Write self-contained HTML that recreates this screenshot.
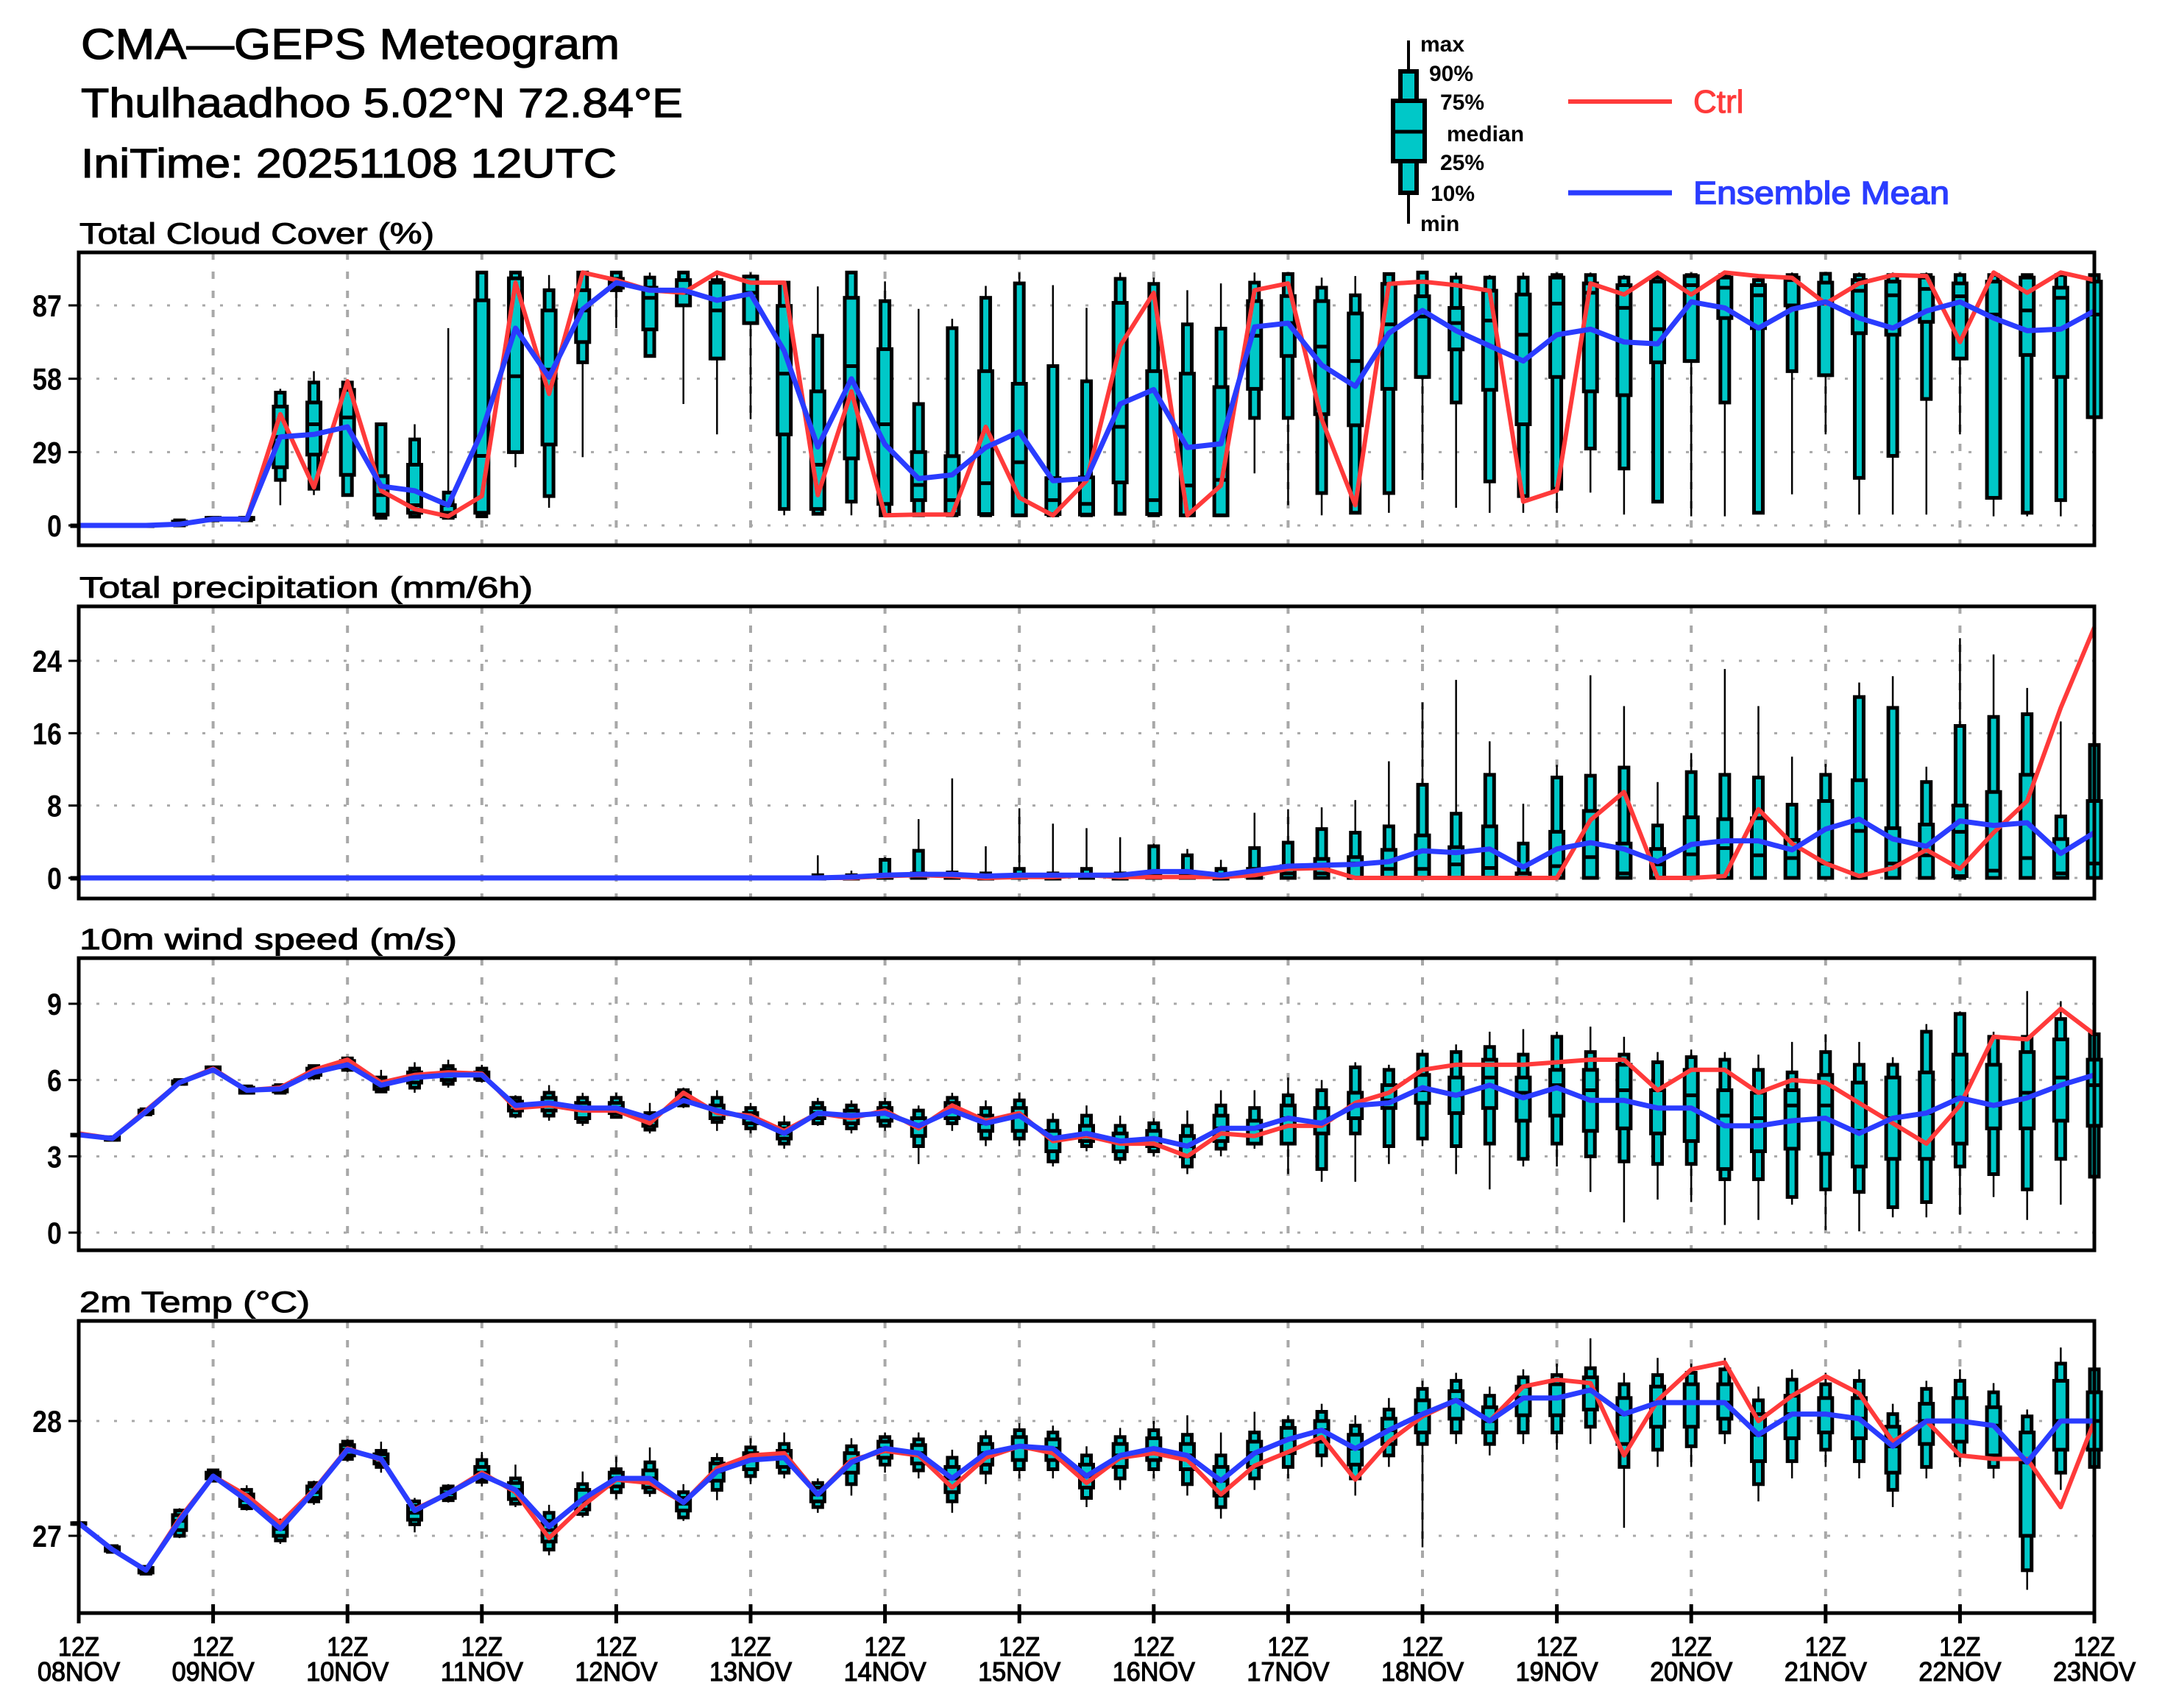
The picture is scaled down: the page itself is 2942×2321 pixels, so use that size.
<!DOCTYPE html>
<html><head><meta charset="utf-8"><style>
html,body{margin:0;padding:0;background:#fff;}
svg{display:block;}
text{font-family:"Liberation Sans","DejaVu Sans",sans-serif;}
</style></head><body>
<svg id="chart" xmlns="http://www.w3.org/2000/svg" width="2942" height="2321" viewBox="0 0 2942 2321">
<rect x="0" y="0" width="2942" height="2321" fill="#fff"/>
<g stroke="#000" stroke-width="1.2">
<text x="110" y="80" font-size="58" textLength="732" lengthAdjust="spacingAndGlyphs">CMA—GEPS Meteogram</text>
<text x="110" y="159" font-size="56" textLength="818" lengthAdjust="spacingAndGlyphs">Thulhaadhoo 5.02°N 72.84°E</text>
<text x="110" y="241" font-size="56" textLength="728" lengthAdjust="spacingAndGlyphs">IniTime: 20251108 12UTC</text>
</g>
<g>
<line x1="1914" y1="55" x2="1914" y2="304" stroke="#000" stroke-width="4"/>
<rect x="1903" y="97" width="22" height="165" fill="#00c8c8" stroke="#000" stroke-width="6"/>
<rect x="1893" y="137" width="43" height="82" fill="#00c8c8" stroke="#000" stroke-width="6"/>
<line x1="1893" y1="179" x2="1936" y2="179" stroke="#000" stroke-width="5"/>
<g font-size="30" font-weight="bold">
<text x="1930" y="70">max</text>
<text x="1942" y="110">90%</text>
<text x="1957" y="149">75%</text>
<text x="1966" y="192">median</text>
<text x="1957" y="231">25%</text>
<text x="1944" y="273">10%</text>
<text x="1930" y="314">min</text>
</g>
<line x1="2131" y1="138" x2="2272" y2="138" stroke="#ff3a3a" stroke-width="6"/>
<text x="2301" y="153" font-size="44" fill="#ff3a3a" stroke="#ff3a3a" stroke-width="1">Ctrl</text>
<line x1="2131" y1="262" x2="2272" y2="262" stroke="#2a3cff" stroke-width="7"/>
<text x="2301" y="277" font-size="44" fill="#2a3cff" stroke="#2a3cff" stroke-width="1.5" textLength="348" lengthAdjust="spacingAndGlyphs">Ensemble Mean</text>
</g>
<g id="panels"></g>
</svg>
<script>
// ---- data (61 time steps, 6-hourly from 12Z 08NOV) ----
const dayLabels = ["08NOV","09NOV","10NOV","11NOV","12NOV","13NOV","14NOV","15NOV","16NOV","17NOV","18NOV","19NOV","20NOV","21NOV","22NOV","23NOV"];

const cloudTicks = [0,29,58,87];
const cloudCtrl = [0,0,0,0.5,2.5,2.5,44,15,57,13.7,6.5,3.6,11.6,96,52,100,97,93,92,100,96,96,12,53,4,4.3,4.3,39,11,4,17.7,71,92,4,15.8,93,95.7,42,8,95.5,96.4,95,92.8,9.4,13.8,95.7,91.3,100,91.3,100,98.6,97.9,87.7,95.7,99,98.6,72.5,100,92,100,97];
const cloudMean = [0,0,0,0.5,2.5,2.5,35,36,39,15.5,13.7,8,37,78,58.6,85.5,96,93,93,89,91.6,69,31,58,32,18.5,20,30.8,37,17.7,18.5,48,53.7,30.8,32.3,78.5,80,63.4,55,76,85,77,71,65,75.4,77.6,72.5,71.8,88.4,86,78,85.5,88.4,82,78,84.8,88.4,82,77,77.6,84.8];
const cloudMin = [0,0,0,0,2,2,8,12,12,3,3,3,3,23,7,27,78,67,48,36,42,4,4.6,4,4,4,4,4,4,4,4,4.6,4,4,4,20.6,8,4,5,5,18,7,5,5,5,13,4.3,9.4,3.6,3.6,5,12.3,36,4.3,4.3,4.3,36,3.6,3.6,3.6,42.8];
const cloudP10 = [0,0,0,0,2,2,18,14.5,12,3,3.5,3,3.6,29,11.6,64.5,93,67,87,66,80,6.5,4.6,9.4,4,4,4,4,4,4,4,4.6,4,4,4,42.5,42.5,12.8,5,12.8,58.7,48.6,17.4,11.6,14.5,30.4,22.5,9.4,65,48.6,5,61,59.4,18.8,27.5,50,66,10.9,5,10,42.8];
const cloudP25 = [0,0,0,0.5,2.5,2.5,23,28,20,4.3,5,3.6,5,29,32,72.5,94,77.5,87,66,80,36,6.5,26.5,8.5,10,4.5,4.5,4,4.5,4.3,17,4.5,4,4,54,67,44,39.6,54,58.7,69.6,53.6,40,58.7,53,51.5,64.5,65,82,78,87,59.4,76,75.4,80.5,66,10.9,67.4,58.7,42.8];
const cloudMed = [0,0,0,1,2.5,2.5,35,40,42.7,12,8,5,27.5,59,61.6,85,96,90,92,85,92,60,24,63,40,16,10,16.7,25,10,8.5,39,10,15.8,18,75,80,70.7,65,79.5,82.6,80,81,75.4,87.7,92,86,77.6,95,94,91,97,87.7,92.8,91,93.5,90.6,83.4,85,90,83.4];
const cloudP75 = [0,0,0,1.5,3,3,47,48.6,53.6,19.5,24,8,89,97.7,85,93,97.5,94,97,96,98.4,86.8,53,90,69.7,29,27.4,61,56,18.7,19,88,61,60,54.7,88.7,90.7,88.7,83.8,95.5,90.6,86,92.8,91.3,98,95.7,95,96.4,98.6,98,95,98,96,97,96.4,98,95.7,96.4,98,94,96.4];
const cloudP90 = [0,0,0,2,3,3,52.5,56.5,56.5,40,34,13,100,100,93,100,100,98,100,97,98.4,96,75,100,88.7,48,78,90,95.7,63,57,97.5,95.5,79.5,77.8,96,99.4,94,91,99.4,100,98,98,98,99,99,98,98,99,99,97,99,99.5,99,99,99,99,99,99,99,99];
const cloudMax = [0,0,0,2,3,3,54,61,57.8,40,40,78,100,100,99,100,100,100,100,100,100,96.5,94.5,100,96.5,85.6,81.7,94.7,100,95,86,100,98,93,95.7,100,100,98,98.6,100,100,100,99,100,100,100,99,100,100,100,99,100,100,100,100,100,100,100,99,100,100];

const precTicks = [0,8,16,24];
const precCtrl = [0,0,0,0,0,0,0,0,0,0,0,0,0,0,0,0,0,0,0,0,0,0,0,0,0.2,0.3,0.2,0,0.1,0.1,0.3,0.1,0.1,0.1,0.1,0.3,1,1.1,0,0,0,0,0,0,0,6.4,9.5,0,0,0.2,7.6,3.8,1.6,0.2,1.1,3.1,1,5,8.5,18.8,27.7];
const precMean = [0,0,0,0,0,0,0,0,0,0,0,0,0,0,0,0,0,0,0,0,0,0,0,0.1,0.3,0.4,0.4,0.2,0.3,0.3,0.3,0.3,0.7,0.7,0.3,0.8,1.3,1.4,1.5,1.8,3,2.8,3.2,1.2,3.2,3.9,3.2,1.8,3.7,4.1,4.1,3.1,5.4,6.5,4.3,3.5,6.3,5.8,6.1,2.7,5];
const precMin = [0,0,0,0,0,0,0,0,0,0,0,0,0,0,0,0,0,0,0,0,0,0,0,0,0,0,0,0,0,0,0,0,0,0,0,0,0,0,0,0,0,0,0,0,0,0,0,0,0,0,0,0,0,0,0,0,0,0,0,0,0];
const precP10 = [0,0,0,0,0,0,0,0,0,0,0,0,0,0,0,0,0,0,0,0,0,0,0,0,0,0,0,0,0,0,0,0,0,0,0,0,0,0,0,0,0,0,0,0,0,0,0,0,0,0,0,0,0,0,0,0,0,0,0,0,0];
const precP25 = [0,0,0,0,0,0,0,0,0,0,0,0,0,0,0,0,0,0,0,0,0,0,0,0,0,0,0,0,0,0,0,0,0,0,0,0,0,0,0,0,0,0,0,0,0,0,0,0,0,0,0,0,0,0,0,0,0.2,0,0,0,0];
const precMed = [0,0,0,0,0,0,0,0,0,0,0,0,0,0,0,0,0,0,0,0,0,0,0,0,0,0,0,0,0,0,0,0,0,0,0,0.5,0.5,0.5,1.6,1,1,1.5,1.1,0,1.3,2.3,0.5,1.5,2.6,3.3,2.5,2.2,1.6,5.2,1.6,2.5,5.1,0.8,2.2,0.5,1.6];
const precP75 = [0,0,0,0,0,0,0,0,0,0,0,0,0,0,0,0,0,0,0,0,0,0,0,0,0.3,0.5,0.2,0,0.3,0,0.3,0,0.5,0.5,0,1,1.3,2.1,2.3,3.1,4.7,3.4,5.7,0.5,5.1,7.4,3.8,3.2,6.7,6.5,6.6,4.2,8.5,10.8,5.5,5.9,8,9.5,11.4,4.3,8.5];
const precP90 = [0,0,0,0,0,0,0,0,0,0,0,0,0,0,0,0,0,0,0,0,0,0,0.3,0.3,2,3,0.6,0.5,1,0.5,1,0.5,3.5,2.5,1,3.3,3.9,5.4,5,5.7,10.3,7.1,11.4,3.8,11.1,11.3,12.2,5.8,11.7,11.4,11.1,8.1,11.4,20,18.8,10.6,16.8,17.8,18.1,6.8,14.7];
const precMax = [0,0,0,0,0,0,0,0,0,0,0,0,0,0,0,0,0,0,0,0,0,0,2.5,0.8,2.3,6.5,11,3.5,7.7,6,5.5,4.5,3.8,3.2,2,7.2,7.6,7.8,8.6,12.9,19.4,21.9,15.1,8.2,12.5,22.4,19,10.6,13.8,23.1,19,13.4,12.6,21.6,22.3,12.3,26.5,24.7,21,17.3,14.7];

const windTicks = [0,3,6,9];
const windCtrl = [3.9,3.7,4.8,5.9,6.45,5.6,5.7,6.4,6.8,5.9,6.2,6.3,6.25,4.9,5.0,4.8,4.8,4.3,5.5,4.7,4.6,4.0,4.7,4.5,4.8,4.1,5.0,4.4,4.7,3.6,3.8,3.5,3.5,3.0,3.9,3.8,4.2,4.2,5.1,5.5,6.4,6.6,6.6,6.6,6.7,6.8,6.8,5.6,6.4,6.4,5.5,6.0,5.9,5.1,4.3,3.5,5.0,7.7,7.6,8.8,7.8];
const windMean = [3.85,3.7,4.75,5.9,6.4,5.6,5.65,6.3,6.6,5.8,6.1,6.2,6.2,5.0,5.1,4.9,4.9,4.5,5.2,4.8,4.5,3.9,4.7,4.6,4.7,4.2,4.8,4.3,4.6,3.7,3.9,3.6,3.7,3.4,4.1,4.1,4.5,4.3,5.0,5.1,5.7,5.4,5.8,5.3,5.7,5.2,5.2,4.9,4.9,4.2,4.2,4.4,4.5,3.9,4.5,4.7,5.3,5.0,5.3,5.8,6.2];
const windMin = [3.85,3.6,4.6,5.8,6.3,5.45,5.45,6.0,6.3,5.5,5.5,5.7,5.9,4.5,4.4,4.2,4.5,3.9,4.9,4.0,3.9,3.3,4.2,3.9,4.0,2.7,4.0,3.4,3.4,2.6,3.2,2.7,3.0,2.3,3.0,3.3,2.3,2.0,2.0,2.7,3.4,2.3,1.7,2.6,2.6,1.6,0.4,1.3,1.2,0.3,0.5,1.1,0.1,0.05,0.6,0.6,0.7,1.4,0.5,1.1,2.2];
const windP10 = [3.85,3.65,4.65,5.85,6.35,5.5,5.5,6.1,6.4,5.55,5.7,5.85,6.0,4.6,4.6,4.35,4.55,4.05,5.0,4.35,4.1,3.5,4.3,4.1,4.2,3.4,4.3,3.7,3.7,2.8,3.4,2.9,3.2,2.6,3.3,3.5,3.5,2.5,3.9,3.4,3.7,3.4,3.5,2.9,3.5,3.0,2.8,2.7,2.7,2.1,2.1,1.4,1.7,1.6,1.0,1.2,2.6,2.3,1.7,2.9,2.2];
const windP25 = [3.85,3.65,4.7,5.85,6.4,5.5,5.55,6.2,6.5,5.65,5.9,6.0,6.05,4.8,4.8,4.5,4.7,4.2,5.1,4.5,4.3,3.7,4.5,4.3,4.4,3.8,4.5,4.0,4.0,3.2,3.6,3.2,3.4,3.0,3.6,3.5,3.5,3.9,4.5,4.9,5.1,4.7,4.9,4.4,4.6,4.0,4.1,3.9,3.6,2.5,3.2,3.3,3.1,2.6,2.9,2.9,3.5,4.1,4.1,4.4,4.2];
const windMed = [3.85,3.7,4.75,5.9,6.45,5.6,5.65,6.3,6.65,5.8,6.1,6.2,6.2,5.0,5.1,4.9,4.9,4.4,5.3,4.8,4.5,3.9,4.7,4.6,4.7,4.2,4.8,4.3,4.6,3.7,3.9,3.6,3.7,3.4,4.1,4.1,4.5,4.3,5.0,5.2,5.6,5.4,6.1,5.5,5.8,5.6,5.6,4.9,5.4,4.6,4.5,5.0,5.0,4.0,4.5,4.7,5.3,5.0,5.5,6.1,5.8];
const windP75 = [3.85,3.75,4.8,5.95,6.5,5.7,5.75,6.45,6.75,5.95,6.3,6.4,6.3,5.15,5.3,5.1,5.1,4.6,5.5,5.0,4.7,4.1,4.9,4.8,4.9,4.5,5.1,4.6,4.9,4.0,4.2,3.9,4.0,3.8,4.6,4.4,5.0,4.9,5.5,5.8,6.2,6.1,6.8,6.1,6.4,6.4,6.6,5.6,6.4,5.6,5.5,5.6,6.2,5.9,6.1,6.3,7.0,6.6,7.1,7.6,6.8];
const windP90 = [3.85,3.75,4.85,6.0,6.5,5.75,5.8,6.55,6.85,6.1,6.45,6.55,6.45,5.3,5.5,5.3,5.3,4.7,5.6,5.3,4.9,4.3,5.1,5.0,5.1,4.8,5.3,4.9,5.2,4.4,4.6,4.2,4.3,4.2,5.0,4.9,5.4,5.6,6.5,6.4,7.0,7.1,7.3,7.0,7.7,7.1,7.0,6.7,6.9,6.8,6.4,6.3,7.1,6.6,6.6,7.9,8.6,7.7,7.7,8.4,7.8];
const windMax = [3.85,3.8,4.9,6.05,6.55,5.8,5.85,6.6,6.9,6.4,6.7,6.8,6.6,5.4,5.8,5.5,5.5,5.1,5.7,5.6,5.1,4.6,5.3,5.2,5.3,5.0,5.5,5.2,5.5,4.7,5.0,4.6,4.5,4.8,5.6,5.6,6.1,6.0,6.7,6.6,7.2,7.4,7.9,8.0,7.9,8.1,7.7,7.1,7.2,7.1,7.0,7.5,7.8,7.5,6.9,8.2,8.7,7.9,9.5,9.1,9.2];

const tempTicks = [27,28];
const tempCtrl = [27.11,26.88,26.70,27.15,27.52,27.35,27.11,27.4,27.76,27.66,27.23,27.37,27.55,27.38,26.98,27.26,27.49,27.46,27.29,27.59,27.7,27.72,27.36,27.66,27.74,27.7,27.42,27.68,27.78,27.72,27.46,27.68,27.72,27.66,27.36,27.61,27.73,27.86,27.49,27.82,28.04,28.18,28.0,28.3,28.36,28.33,27.7,28.18,28.45,28.51,28.0,28.22,28.39,28.24,27.82,28.0,27.7,27.67,27.67,27.25,28.0];
const tempMean = [27.11,26.88,26.70,27.13,27.52,27.31,27.06,27.39,27.75,27.67,27.22,27.37,27.53,27.40,27.08,27.32,27.50,27.50,27.29,27.56,27.66,27.68,27.36,27.64,27.76,27.72,27.5,27.72,27.78,27.76,27.52,27.7,27.76,27.7,27.48,27.72,27.84,27.92,27.76,27.92,28.06,28.18,28.0,28.2,28.2,28.27,28.06,28.16,28.16,28.16,27.88,28.06,28.06,28.02,27.78,28.0,28.0,27.96,27.64,28.0,28.0];
const tempMin = [27.11,26.86,26.66,26.98,27.47,27.22,26.93,27.27,27.65,27.55,27.03,27.29,27.43,27.25,26.83,27.16,27.32,27.34,27.13,27.31,27.45,27.5,27.2,27.35,27.55,27.5,27.2,27.45,27.5,27.5,27.25,27.4,27.5,27.35,27.15,27.4,27.5,27.6,27.35,27.6,26.9,27.8,27.7,27.8,27.75,27.8,27.07,27.6,27.6,27.8,27.3,27.5,27.6,27.5,27.25,27.5,27.6,27.5,26.53,27.4,27.5];
const tempP10 = [27.11,26.86,26.67,27.0,27.48,27.24,26.96,27.3,27.67,27.6,27.1,27.31,27.47,27.28,26.88,27.19,27.38,27.38,27.16,27.4,27.52,27.55,27.25,27.45,27.62,27.57,27.3,27.55,27.58,27.58,27.33,27.5,27.58,27.45,27.25,27.5,27.6,27.7,27.5,27.7,27.8,27.9,27.8,27.9,27.9,27.95,27.6,27.75,27.78,27.9,27.45,27.65,27.75,27.65,27.4,27.6,27.7,27.6,26.7,27.55,27.6];
const tempP25 = [27.11,26.87,26.68,27.05,27.5,27.26,27.0,27.33,27.7,27.63,27.14,27.33,27.5,27.32,26.95,27.23,27.43,27.42,27.22,27.48,27.58,27.6,27.3,27.55,27.68,27.63,27.38,27.62,27.66,27.66,27.42,27.6,27.66,27.58,27.35,27.6,27.72,27.82,27.62,27.8,27.9,28.02,27.9,28.05,28.05,28.1,27.8,27.95,27.95,28.02,27.65,27.85,27.9,27.85,27.55,27.8,27.82,27.7,27.0,27.75,27.75];
const tempMed = [27.11,26.88,26.70,27.13,27.53,27.31,27.06,27.38,27.75,27.67,27.2,27.37,27.55,27.4,27.05,27.3,27.5,27.5,27.28,27.56,27.66,27.68,27.36,27.64,27.76,27.72,27.5,27.72,27.78,27.76,27.52,27.7,27.76,27.7,27.48,27.72,27.84,27.92,27.76,27.92,28.06,28.18,28.0,28.2,28.2,28.27,28.06,28.16,28.16,28.16,27.88,28.06,28.06,28.02,27.78,28.0,28.0,27.96,27.64,28.0,28.0];
const tempP75 = [27.11,26.9,26.72,27.18,27.55,27.36,27.1,27.43,27.79,27.71,27.26,27.41,27.6,27.46,27.13,27.4,27.55,27.57,27.33,27.63,27.72,27.74,27.42,27.72,27.82,27.79,27.6,27.8,27.86,27.84,27.62,27.8,27.85,27.8,27.6,27.82,27.94,28.0,27.88,28.02,28.18,28.26,28.12,28.3,28.32,28.38,28.2,28.3,28.32,28.32,28.06,28.22,28.2,28.2,27.95,28.15,28.2,28.12,27.9,28.35,28.25];
const tempP90 = [27.11,26.91,26.73,27.22,27.57,27.4,27.13,27.46,27.82,27.74,27.3,27.43,27.66,27.5,27.2,27.45,27.58,27.64,27.38,27.67,27.77,27.8,27.46,27.78,27.86,27.84,27.68,27.86,27.92,27.9,27.7,27.86,27.92,27.88,27.7,27.9,28.0,28.08,27.96,28.1,28.28,28.35,28.22,28.38,28.4,28.46,28.32,28.4,28.42,28.45,28.18,28.36,28.32,28.35,28.06,28.28,28.35,28.25,28.04,28.5,28.45];
const tempMax = [27.11,26.92,26.74,27.24,27.58,27.44,27.15,27.48,27.84,27.82,27.33,27.45,27.73,27.62,27.27,27.56,27.69,27.77,27.45,27.72,27.85,27.9,27.5,27.85,27.9,27.9,27.75,27.92,27.98,27.96,27.78,27.94,28.0,28.05,27.9,28.08,28.05,28.15,28.05,28.2,28.35,28.42,28.3,28.45,28.5,28.72,28.42,28.55,28.5,28.55,28.3,28.45,28.42,28.45,28.15,28.35,28.45,28.33,28.1,28.64,28.5];

// ---- layout ----
const X0 = 107, X1 = 2846, NSTEP = 60;
function xAt(i){ return X0 + (X1 - X0) * i / NSTEP; }
function makeY(v0, y0, v1, y1){ return v => y0 + (v - v0) * (y1 - y0) / (v1 - v0); }

const panels = [
  {name:'cloud', title:'Total Cloud Cover (%)', titleLen:482, top:343, bottom:741, y:makeY(0,714,87,415), ticks:cloudTicks,
   ctrl:cloudCtrl, mean:cloudMean, mn:cloudMin, p10:cloudP10, p25:cloudP25, med:cloudMed, p75:cloudP75, p90:cloudP90, mx:cloudMax},
  {name:'precip', title:'Total precipitation (mm/6h)', titleLen:616, top:824, bottom:1221, y:makeY(0,1193,24,898), ticks:precTicks,
   ctrl:precCtrl, mean:precMean, mn:precMin, p10:precP10, p25:precP25, med:precMed, p75:precP75, p90:precP90, mx:precMax},
  {name:'wind', title:'10m wind speed (m/s)', titleLen:513, top:1302, bottom:1699, y:makeY(0,1675,9,1364), ticks:windTicks,
   ctrl:windCtrl, mean:windMean, mn:windMin, p10:windP10, p25:windP25, med:windMed, p75:windP75, p90:windP90, mx:windMax},
  {name:'temp', title:'2m Temp (°C)', titleLen:313, top:1795, bottom:2192, y:makeY(27,2087,28,1931), ticks:tempTicks,
   ctrl:tempCtrl, mean:tempMean, mn:tempMin, p10:tempP10, p25:tempP25, med:tempMed, p75:tempP75, p90:tempP90, mx:tempMax}
];

const NS = 'http://www.w3.org/2000/svg';
const root = document.getElementById('panels');
function el(tag, attrs, parent){
  const e = document.createElementNS(NS, tag);
  for (const k in attrs) e.setAttribute(k, attrs[k]);
  parent.appendChild(e);
  return e;
}

panels.forEach((p, pi) => {
  const g = el('g', {}, root);
  
  

  const t = el('text', {x:108, y:p.top - 12, 'font-size':40, stroke:'#000', 'stroke-width':1, textLength:p.titleLen, lengthAdjust:'spacingAndGlyphs'}, g);
  t.textContent = p.title;
  
  

  for (let d = 1; d < 15; d++){
    const x = xAt(d * 4);
    const ln = el('line', {x1:x, y1:p.top, x2:x, y2:p.bottom, stroke:'#a8a8a8', 'stroke-width':4, 'stroke-dasharray':'10,16'}, g);
    
    
  }
  p.ticks.forEach(v => {
    const y = p.y(v);
    const gl = el('line', {x1:X0, y1:y, x2:X1, y2:y, stroke:'#a8a8a8', 'stroke-width':3, 'stroke-dasharray':'4,20'}, g);
    
    
    const tk = el('line', {x1:93, y1:y, x2:X0, y2:y, stroke:'#000', 'stroke-width':3}, g);
    
    
    const s = String(v);
    const lb = el('text', {x:84, y:y + 15, 'font-size':42, 'font-weight':'bold', 'text-anchor':'end', textLength:s.length * 20, lengthAdjust:'spacingAndGlyphs'}, g);
    lb.textContent = s;
    
    
  });

  for (let i = 0; i < p.med.length; i++){
    const x = xAt(i);
    const bg = el('g', {}, g);
    
    
    const wk = el('line', {x1:x, y1:p.y(p.mn[i]), x2:x, y2:p.y(p.mx[i]), stroke:'#000', 'stroke-width':2.5}, bg);
    
    
    const y90 = p.y(p.p90[i]), y10 = p.y(p.p10[i]);
    const thin = el('rect', {x:x - 6, y:Math.min(y90, y10), width:12, height:Math.max(1, Math.abs(y10 - y90)), fill:'#00c8c8', stroke:'#000', 'stroke-width':5}, bg);
    
    
    const y75 = p.y(p.p75[i]), y25 = p.y(p.p25[i]);
    const thick = el('rect', {x:x - 9, y:Math.min(y75, y25), width:18, height:Math.max(1, Math.abs(y25 - y75)), fill:'#00c8c8', stroke:'#000', 'stroke-width':5}, bg);
    
    
    const ym = p.y(p.med[i]);
    const md = el('line', {x1:x - 9, y1:ym, x2:x + 9, y2:ym, stroke:'#000', 'stroke-width':5}, bg);
    
    
  }

  const ptsC = p.ctrl.map((v, i) => xAt(i).toFixed(1) + ',' + p.y(v).toFixed(1)).join(' ');
  const lc = el('polyline', {points:ptsC, fill:'none', stroke:'#ff3a3a', 'stroke-width':6, 'stroke-linejoin':'round'}, g);
  
  
  const ptsM = p.mean.map((v, i) => xAt(i).toFixed(1) + ',' + p.y(v).toFixed(1)).join(' ');
  const lm = el('polyline', {points:ptsM, fill:'none', stroke:'#2a3cff', 'stroke-width':7, 'stroke-linejoin':'round'}, g);
  
  

  const fr = el('rect', {x:X0, y:p.top, width:X1 - X0, height:p.bottom - p.top, fill:'none', stroke:'#000', 'stroke-width':5}, g);
  
  

  if (pi === 3){
    for (let d = 0; d <= 15; d++){
      const x = xAt(d * 4);
      const bt = el('line', {x1:x, y1:p.bottom - 12, x2:x, y2:p.bottom + 14, stroke:'#000', 'stroke-width':5}, g);
      
      
      const a = el('text', {x:x, y:2250, 'font-size':36, stroke:'#000', 'stroke-width':1.2, 'text-anchor':'middle', textLength:56, lengthAdjust:'spacingAndGlyphs'}, g);
      a.textContent = '12Z';
      
      
      const b = el('text', {x:x, y:2284, 'font-size':36, stroke:'#000', 'stroke-width':1.2, 'text-anchor':'middle', textLength:112, lengthAdjust:'spacingAndGlyphs'}, g);
      b.textContent = dayLabels[d];
      
      
    }
  }
});
</script>
</body></html>
